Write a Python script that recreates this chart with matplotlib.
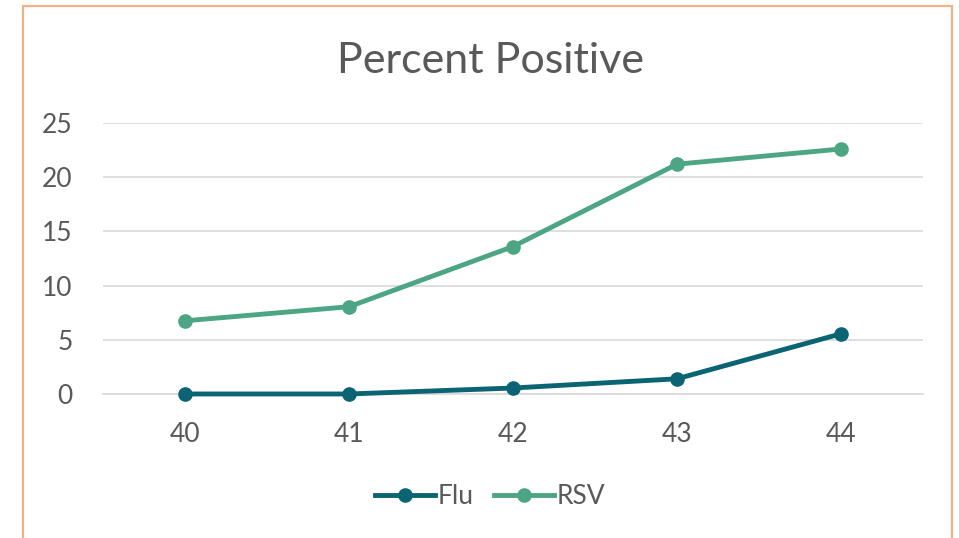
import matplotlib.pyplot as plt
from matplotlib.patches import Rectangle
from matplotlib.lines import Line2D

weeks = ["40", "41", "42", "43", "44"]
flu = [0.0, 0.0, 0.55, 1.4, 5.55]
rsv = [6.75, 8.05, 13.6, 21.2, 22.6]

plt.rcParams["font.family"] = ["Lato", "DejaVu Sans"]
text_color = "#595959"
flu_color = "#0B6474"
rsv_color = "#4CA683"

fig = plt.figure(figsize=(9.59, 5.38), dpi=100)
ax = fig.add_axes([0.1074, 0.2677, 0.855, 0.5037])

x = range(len(weeks))
ax.plot(x, flu, color=flu_color, linewidth=3.5, marker="o", markersize=9.5,
        label="Flu", clip_on=False, zorder=3)
ax.plot(x, rsv, color=rsv_color, linewidth=3.5, marker="o", markersize=9.5,
        label="RSV", clip_on=False, zorder=3)

ax.set_xlim(-0.5, len(weeks) - 0.5)
ax.set_ylim(0, 25)
ax.set_yticks([0, 5, 10, 15, 20, 25])
ax.set_xticks(list(x))
ax.set_xticklabels(weeks)
ax.grid(axis="y", color="#D9D9D9", linewidth=1.2)
ax.set_axisbelow(True)
for s in ["top", "right", "left"]:
    ax.spines[s].set_visible(False)
ax.spines["bottom"].set_color("#D9D9D9")
ax.spines["bottom"].set_linewidth(1.2)
ax.tick_params(length=0, labelsize=19, colors=text_color)
ax.tick_params(axis="x", pad=20)
ax.tick_params(axis="y", pad=22)

fig.text(0.511, 1 - 73 / 538, "Percent Positive", ha="center", va="baseline",
         fontsize=31, color=text_color)

handles = [
    Line2D([], [], color=flu_color, linewidth=3.5, marker="o", markersize=9.5),
    Line2D([], [], color=rsv_color, linewidth=3.5, marker="o", markersize=9.5),
]
fig.legend(handles, ["Flu", "RSV"], loc="center", bbox_to_anchor=(0.511, 1 - 497 / 538),
           ncol=2, frameon=False, fontsize=19, handlelength=2.25,
           handletextpad=0.1, columnspacing=0.8, labelcolor=text_color)

fig.patches.append(Rectangle((23 / 959, -0.1), 929 / 959, 1.1 - 6 / 538,
                             transform=fig.transFigure, fill=False,
                             edgecolor="#F4B183", linewidth=1.6))

fig.savefig("out.png", dpi=100)
